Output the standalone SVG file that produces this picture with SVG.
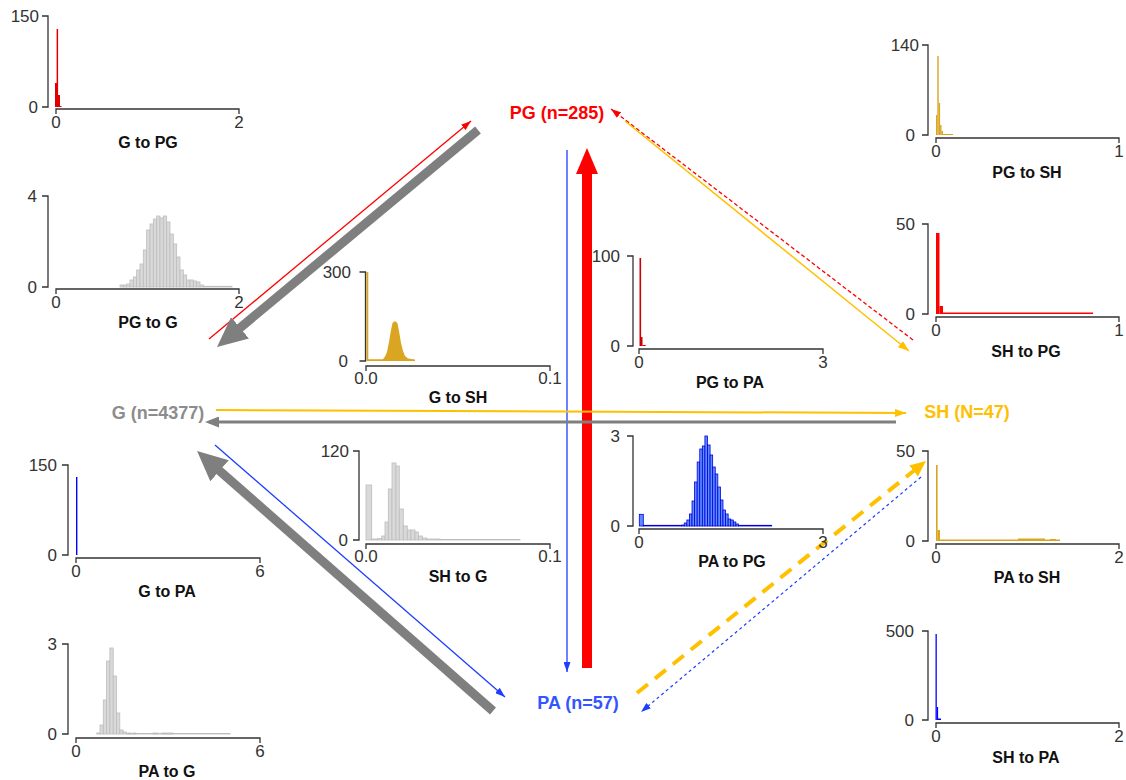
<svg xmlns="http://www.w3.org/2000/svg" width="1126" height="780" viewBox="0 0 1126 780">
<style>
.ax{stroke:#333;stroke-width:1.3;fill:none}
.tl{font-family:"Liberation Sans",Arial,sans-serif;font-size:17px;fill:#333}
.tr{text-anchor:end}
.tc{text-anchor:middle}
.tt{font-family:"Liberation Sans",Arial,sans-serif;font-size:16px;font-weight:bold;fill:#111;text-anchor:middle}
.nl{font-family:"Liberation Sans",Arial,sans-serif;font-size:18px;font-weight:bold;text-anchor:middle}
.hg{fill:#d9d9d9;stroke:#bdbdbd;stroke-width:0.8}
.hb{fill:#5c8cff;stroke:#0000dd;stroke-width:0.8}
.hgold{fill:#daa520}
.hred{fill:#e00000}
.hred2{fill:#ff0000}
.hblue{fill:#0000ff}
.c{fill:none}
</style>
<defs>
<marker id="mRedS" markerUnits="userSpaceOnUse" markerWidth="10" markerHeight="7" viewBox="0 0 10 7" refX="10" refY="3.5" orient="auto"><path d="M0,0 L10,3.5 L0,7 Z" fill="#ff0000"/></marker>
<marker id="mGoldS" markerUnits="userSpaceOnUse" markerWidth="11" markerHeight="8" viewBox="0 0 11 8" refX="11" refY="4" orient="auto"><path d="M0,0 L11,4 L0,8 Z" fill="#ffc000"/></marker>
<marker id="mBlueS" markerUnits="userSpaceOnUse" markerWidth="10" markerHeight="7" viewBox="0 0 10 7" refX="10" refY="3.5" orient="auto"><path d="M0,0 L10,3.5 L0,7 Z" fill="#1f3dff"/></marker>
<marker id="mGrayM" markerUnits="userSpaceOnUse" markerWidth="14" markerHeight="11" viewBox="0 0 14 11" refX="10" refY="5.5" orient="auto"><path d="M0,0 L14,5.5 L0,11 Z" fill="#7f7f7f"/></marker>
<marker id="mGrayL" markerUnits="userSpaceOnUse" markerWidth="30" markerHeight="28" viewBox="0 0 30 28" refX="17" refY="14" orient="auto"><path d="M0,0 L30,14 L0,28 Z" fill="#7f7f7f"/></marker>
<marker id="mRedL" markerUnits="userSpaceOnUse" markerWidth="26" markerHeight="22" viewBox="0 0 26 22" refX="14" refY="11" orient="auto"><path d="M0,0 L26,11 L0,22 Z" fill="#ff0000"/></marker>
<marker id="mGoldM" markerUnits="userSpaceOnUse" markerWidth="16" markerHeight="14" viewBox="0 0 16 14" refX="11" refY="7" orient="auto"><path d="M0,0 L16,7 L0,14 Z" fill="#ffc000"/></marker>
</defs>
<rect width="1126" height="780" fill="#ffffff"/>

<g id="connectors">
<line class="c" x1="209" y1="339" x2="471" y2="121" stroke="#ff0000" stroke-width="1.3" marker-end="url(#mRedS)"/>
<line class="c" x1="478" y1="130" x2="227" y2="338.7" stroke="#7f7f7f" stroke-width="9" marker-end="url(#mGrayL)"/>
<line class="c" x1="913" y1="340" x2="611" y2="109" stroke="#ff0000" stroke-width="1.3" stroke-dasharray="4 2.5" marker-end="url(#mRedS)"/>
<line class="c" x1="625" y1="121" x2="909" y2="351" stroke="#ffc000" stroke-width="1.5" marker-end="url(#mGoldS)"/>
<line class="c" x1="567" y1="150" x2="567" y2="672" stroke="#1f3dff" stroke-width="1.3" marker-end="url(#mBlueS)"/>
<line class="c" x1="587" y1="668" x2="587" y2="160" stroke="#ff0000" stroke-width="10" marker-end="url(#mRedL)"/>
<line class="c" x1="216" y1="410" x2="906" y2="413" stroke="#ffc000" stroke-width="2" marker-end="url(#mGoldS)"/>
<line class="c" x1="896" y1="422" x2="209" y2="422" stroke="#7f7f7f" stroke-width="3" marker-end="url(#mGrayM)"/>
<line class="c" x1="215" y1="445" x2="505" y2="697" stroke="#1f3dff" stroke-width="1.3" marker-end="url(#mBlueS)"/>
<line class="c" x1="493" y1="711" x2="206.8" y2="459.6" stroke="#7f7f7f" stroke-width="9" marker-end="url(#mGrayL)"/>
<line class="c" x1="637" y1="693" x2="922.1" y2="464.1" stroke="#ffc000" stroke-width="4" stroke-dasharray="14 9" marker-end="url(#mGoldM)"/>
<line class="c" x1="921" y1="477" x2="641" y2="712" stroke="#1f3dff" stroke-width="1.2" stroke-dasharray="3 3" marker-end="url(#mBlueS)"/>
</g>

<g id="node-PG"><text class="nl" x="557" y="119" fill="#ff0000">PG (n=285)</text></g>
<g id="node-G"><text class="nl" x="158" y="419" fill="#8c8c8c">G (n=4377)</text></g>
<g id="node-SH"><text class="nl" x="967" y="418" fill="#ffc000">SH (N=47)</text></g>
<g id="node-PA"><text class="nl" x="578" y="709" fill="#3355ff">PA (n=57)</text></g>

<g id="hist-G-to-PG">
<rect class="hred" x="55" y="83" width="2" height="24"/>
<rect class="hred" x="56.6" y="29" width="1.5" height="78"/>
<rect class="hred" x="58" y="95" width="2" height="12"/>
<rect class="hred" x="60" y="106" width="1.5" height="1"/>
<path class="ax" d="M42,16H48V107H42M56,114V109H239V114"/>
<text class="tl tr" x="39" y="22">150</text><text class="tl tr" x="38" y="113">0</text>
<text class="tl tc" x="56" y="128">0</text><text class="tl tc" x="239" y="128">2</text>
<text class="tt" x="148" y="148">G to PG</text>
</g>

<g id="hist-PG-to-G">
<rect class="hg" x="120" y="285" width="3.33" height="2"/>
<rect class="hg" x="123.33" y="285" width="3.33" height="2"/>
<rect class="hg" x="126.67" y="284" width="3.33" height="3"/>
<rect class="hg" x="130" y="280" width="3.33" height="7"/>
<rect class="hg" x="133.33" y="277" width="3.33" height="10"/>
<rect class="hg" x="136.67" y="270" width="3.33" height="17"/>
<rect class="hg" x="140" y="264" width="3.33" height="23"/>
<rect class="hg" x="143.33" y="250" width="3.33" height="37"/>
<rect class="hg" x="146.67" y="230" width="3.33" height="57"/>
<rect class="hg" x="150" y="224" width="3.33" height="63"/>
<rect class="hg" x="153.33" y="219" width="3.33" height="68"/>
<rect class="hg" x="156.67" y="216" width="3.33" height="71"/>
<rect class="hg" x="160" y="218" width="3.33" height="69"/>
<rect class="hg" x="163.33" y="216" width="3.33" height="71"/>
<rect class="hg" x="166.67" y="222" width="3.33" height="65"/>
<rect class="hg" x="170" y="234" width="3.33" height="53"/>
<rect class="hg" x="173.33" y="244" width="3.33" height="43"/>
<rect class="hg" x="176.67" y="257" width="3.33" height="30"/>
<rect class="hg" x="180" y="270" width="3.33" height="17"/>
<rect class="hg" x="183.33" y="275" width="3.33" height="12"/>
<rect class="hg" x="186.67" y="280" width="3.33" height="7"/>
<rect class="hg" x="190" y="280" width="3.33" height="7"/>
<rect class="hg" x="193.33" y="281" width="3.33" height="6"/>
<rect class="hg" x="196.67" y="282" width="3.33" height="5"/>
<rect class="hg" x="200" y="285" width="3.33" height="2"/>
<rect class="hg" x="203.33" y="286.3" width="28.7" height="0.7"/>
<path class="ax" d="M42,196H48V287H42M56,294V289H239V294"/>
<text class="tl tr" x="37" y="202">4</text><text class="tl tr" x="37" y="293">0</text>
<text class="tl tc" x="56" y="308">0</text><text class="tl tc" x="239" y="308">2</text>
<text class="tt" x="148" y="328">PG to G</text>
</g>

<g id="hist-G-to-SH">
<path class="hgold" d="M366.5,361V272H368.3V359.3H383L385,356.5L387,352L389,342L391,330L392.5,323L394,321.5L396,321.5L397.5,323.5L399,331L401,343L403,351L405,356L408,358.5L415,359.5V361Z"/>
<path class="ax" d="M359.5,272H365.5V361H359.5M366,371V366H550V371"/>
<text class="tl tr" x="351" y="278">300</text><text class="tl tr" x="348" y="367">0</text>
<text class="tl tc" x="366" y="384">0.0</text><text class="tl tc" x="550" y="384">0.1</text>
<text class="tt" x="458" y="403">G to SH</text>
</g>

<g id="hist-PG-to-PA">
<rect fill="#cc0000" x="639.5" y="258" width="1.6" height="88"/>
<rect fill="#cc0000" x="641" y="337" width="1.5" height="9"/>
<rect fill="#cc0000" x="642.5" y="345" width="3.2" height="1"/>
<path class="ax" d="M627,256H633V346H627M639,354V349H823V354"/>
<text class="tl tr" x="620" y="262">100</text><text class="tl tr" x="620" y="352">0</text>
<text class="tl tc" x="639" y="368">0</text><text class="tl tc" x="823" y="368">3</text>
<text class="tt" x="730" y="388">PG to PA</text>
</g>

<g id="hist-PG-to-SH">
<rect class="hgold" x="936" y="115" width="1.3" height="20"/>
<rect class="hgold" x="937.3" y="56" width="1.4" height="79"/>
<rect class="hgold" x="938.7" y="103" width="1.4" height="32"/>
<rect class="hgold" x="940.1" y="125" width="1.4" height="10"/>
<rect class="hgold" x="941.5" y="131" width="1.5" height="4"/>
<rect class="hgold" x="943" y="134" width="10" height="1"/>
<path class="ax" d="M922,45H928V135H922M936,143V138H1119V143"/>
<text class="tl tr" x="919" y="51">140</text><text class="tl tr" x="915" y="141">0</text>
<text class="tl tc" x="936" y="157">0</text><text class="tl tc" x="1119" y="157">1</text>
<text class="tt" x="1027" y="178">PG to SH</text>
</g>

<g id="hist-SH-to-PG">
<rect class="hred2" x="936" y="233" width="3.5" height="81"/>
<rect class="hred2" x="939.5" y="306" width="3.5" height="8"/>
<rect class="hred2" x="943" y="312.5" width="150" height="1.5"/>
<path class="ax" d="M922,224H928V314H922M936,322V317H1119V322"/>
<text class="tl tr" x="915" y="230">50</text><text class="tl tr" x="915" y="320">0</text>
<text class="tl tc" x="936" y="336">0</text><text class="tl tc" x="1119" y="336">1</text>
<text class="tt" x="1026" y="357">SH to PG</text>
</g>

<g id="hist-SH-to-G">
<rect class="hg" x="366" y="485" width="5.7" height="55"/>
<rect class="hg" x="371.7" y="539" width="6" height="1"/>
<rect class="hg" x="377.7" y="538.5" width="4" height="1.5"/>
<rect class="hg" x="381.7" y="536" width="3.3" height="4"/>
<rect class="hg" x="385" y="522" width="3.3" height="18"/>
<rect class="hg" x="388.3" y="489" width="3.7" height="51"/>
<rect class="hg" x="392" y="463" width="4" height="77"/>
<rect class="hg" x="396" y="466" width="3.3" height="74"/>
<rect class="hg" x="399.3" y="509" width="4" height="31"/>
<rect class="hg" x="403.3" y="526" width="4" height="14"/>
<rect class="hg" x="407.3" y="530" width="3.7" height="10"/>
<rect class="hg" x="411" y="530" width="4" height="10"/>
<rect class="hg" x="415" y="532" width="3.3" height="8"/>
<rect class="hg" x="418.3" y="536" width="4" height="4"/>
<rect class="hg" x="422.3" y="538" width="4.4" height="2"/>
<rect class="hg" x="426.7" y="539" width="13.3" height="1"/>
<rect class="hg" x="440" y="539.5" width="80" height="0.5"/>
<path class="ax" d="M353,451H359V540H353M366,549V544H550V549"/>
<text class="tl tr" x="349" y="457">120</text><text class="tl tr" x="348" y="546">0</text>
<text class="tl tc" x="366" y="562">0.0</text><text class="tl tc" x="550" y="562">0.1</text>
<text class="tt" x="458" y="582">SH to G</text>
</g>

<g id="hist-PA-to-PG">
<rect class="hb" x="639.3" y="514.3" width="4" height="11.7"/>
<rect class="hb" x="643.3" y="525.3" width="38.4" height="0.7"/>
<rect class="hb" x="681.7" y="525" width="2.58" height="1"/>
<rect class="hb" x="684.28" y="523" width="2.58" height="3"/>
<rect class="hb" x="686.86" y="520" width="2.58" height="6"/>
<rect class="hb" x="689.44" y="514" width="2.58" height="12"/>
<rect class="hb" x="692.02" y="501" width="2.58" height="25"/>
<rect class="hb" x="694.6" y="482" width="2.58" height="44"/>
<rect class="hb" x="697.18" y="462" width="2.58" height="64"/>
<rect class="hb" x="699.76" y="449" width="2.58" height="77"/>
<rect class="hb" x="702.34" y="446" width="2.58" height="80"/>
<rect class="hb" x="704.92" y="436" width="2.58" height="90"/>
<rect class="hb" x="707.5" y="445" width="2.58" height="81"/>
<rect class="hb" x="710.08" y="455" width="2.58" height="71"/>
<rect class="hb" x="712.66" y="467" width="2.58" height="59"/>
<rect class="hb" x="715.24" y="474" width="2.58" height="52"/>
<rect class="hb" x="717.82" y="487" width="2.58" height="39"/>
<rect class="hb" x="720.4" y="500" width="2.58" height="26"/>
<rect class="hb" x="722.98" y="510" width="2.58" height="16"/>
<rect class="hb" x="725.56" y="514" width="2.58" height="12"/>
<rect class="hb" x="728.14" y="519" width="2.58" height="7"/>
<rect class="hb" x="730.72" y="520" width="2.58" height="6"/>
<rect class="hb" x="733.3" y="522" width="2.58" height="4"/>
<rect class="hb" x="735.88" y="524" width="2.58" height="2"/>
<rect class="hb" x="738.46" y="525.3" width="33.2" height="0.7"/>
<path class="ax" d="M627,436H633V526H627M639,534V529H823V534"/>
<text class="tl tr" x="620" y="442">3</text><text class="tl tr" x="620" y="532">0</text>
<text class="tl tc" x="639" y="548">0</text><text class="tl tc" x="823" y="548">3</text>
<text class="tt" x="732" y="567">PA to PG</text>
</g>

<g id="hist-PA-to-SH">
<rect class="hgold" x="936" y="465" width="1.6" height="76"/>
<rect class="hgold" x="937.5" y="530" width="2.5" height="11"/>
<rect class="hgold" x="940" y="539.5" width="120" height="1.5"/>
<rect class="hgold" x="1018" y="538.5" width="27" height="2.5"/>
<rect class="hgold" x="1050" y="539" width="6" height="2"/>
<path class="ax" d="M922,451H928V541H922M936,549V544H1119V549"/>
<text class="tl tr" x="915" y="457">50</text><text class="tl tr" x="915" y="547">0</text>
<text class="tl tc" x="936" y="563">0</text><text class="tl tc" x="1119" y="563">2</text>
<text class="tt" x="1027" y="583">PA to SH</text>
</g>

<g id="hist-SH-to-PA">
<rect class="hblue" x="935.5" y="634" width="1.3" height="86"/>
<rect class="hblue" x="936.8" y="707" width="1.3" height="13"/>
<rect class="hblue" x="938" y="718.5" width="3" height="1.5"/>
<path class="ax" d="M922,631H928V720H922M936,728V723H1119V728"/>
<text class="tl tr" x="914" y="637">500</text><text class="tl tr" x="914" y="726">0</text>
<text class="tl tc" x="936" y="742">0</text><text class="tl tc" x="1119" y="742">2</text>
<text class="tt" x="1026" y="763">SH to PA</text>
</g>

<g id="hist-G-to-PA">
<rect class="hblue" x="76" y="477" width="1.4" height="78"/>
<path class="ax" d="M62,465H68V555H62M76,563V558H260V563"/>
<text class="tl tr" x="57" y="471">150</text><text class="tl tr" x="57" y="561">0</text>
<text class="tl tc" x="76" y="577">0</text><text class="tl tc" x="260" y="577">6</text>
<text class="tt" x="167" y="597">G to PA</text>
</g>

<g id="hist-PA-to-G">
<rect class="hg" x="96.7" y="733" width="3.3" height="1"/>
<rect class="hg" x="100" y="725" width="3.3" height="9"/>
<rect class="hg" x="103.3" y="700" width="3.3" height="34"/>
<rect class="hg" x="106.6" y="661" width="3.3" height="73"/>
<rect class="hg" x="109.9" y="648" width="3.3" height="86"/>
<rect class="hg" x="113.2" y="676" width="3.3" height="58"/>
<rect class="hg" x="116.5" y="713" width="3.3" height="21"/>
<rect class="hg" x="119.8" y="730" width="3.3" height="4"/>
<rect class="hg" x="123.1" y="732" width="3.3" height="2"/>
<rect class="hg" x="128" y="733" width="3" height="1"/>
<rect class="hg" x="133" y="733" width="3" height="1"/>
<rect class="hg" x="153" y="733" width="5" height="1"/>
<rect class="hg" x="162" y="733" width="11" height="1"/>
<rect class="hg" x="126.4" y="733.4" width="103.6" height="0.6"/>
<path class="ax" d="M62,644H68V734H62M76,743V738H260V743"/>
<text class="tl tr" x="57" y="650">3</text><text class="tl tr" x="57" y="740">0</text>
<text class="tl tc" x="76" y="757">0</text><text class="tl tc" x="260" y="757">6</text>
<text class="tt" x="167" y="777">PA to G</text>
</g>
</svg>
